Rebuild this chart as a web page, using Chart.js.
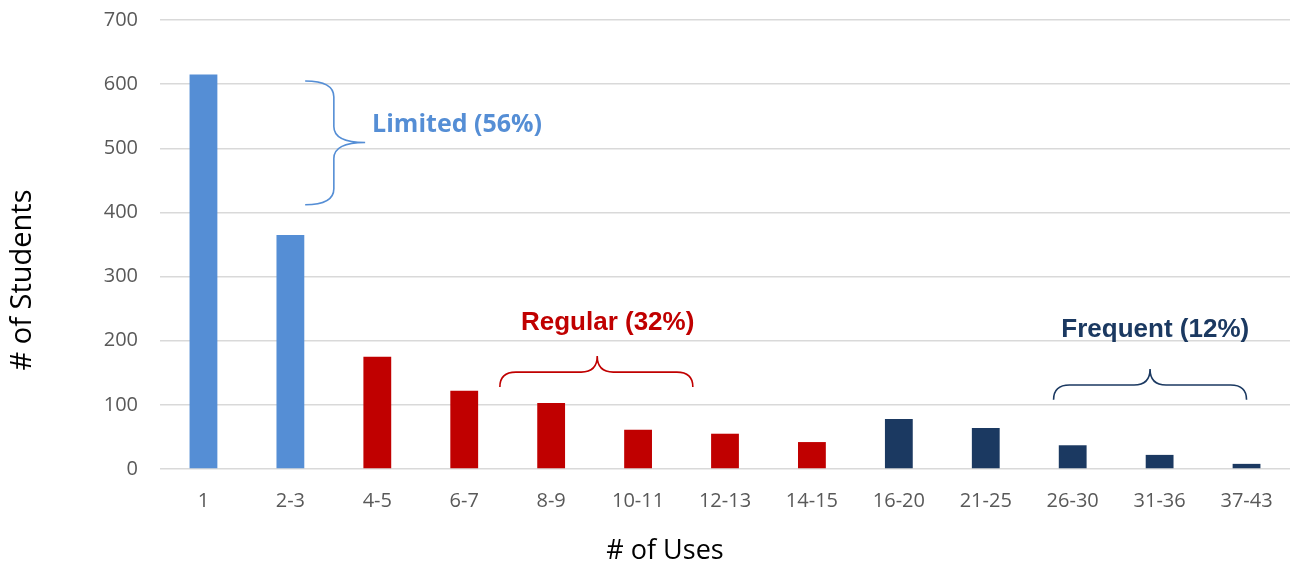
<!DOCTYPE html>
<html>
<head>
<meta charset="utf-8">
<script src="https://cdn.jsdelivr.net/npm/chart.js@4"></script>
<style>
  html, body { margin: 0; padding: 0; background: #fff; }
  #wrap { width: 1295px; height: 564px; }
</style>
</head>
<body>
<div id="wrap"><canvas id="usesChart"></canvas></div>
<script>
// --- data ---
const uses = ['1', '2-3', '4-5', '6-7', '8-9', '10-11', '12-13', '14-15', '16-20', '21-25', '26-30', '31-36', '37-43'];
const students = [615, 365, 175, 122, 103, 61, 55, 42, 78, 64, 37, 22, 8];
const usageGroup = ['limited', 'limited', 'regular', 'regular', 'regular', 'regular', 'regular', 'regular',
  'frequent', 'frequent', 'frequent', 'frequent', 'frequent'];
const yTicks = [0, 100, 200, 300, 400, 500, 600, 700];

const groupColors = { limited: '#558ed5', regular: '#c00000', frequent: '#1b3961' };

// brace + label annotations (x = category index, y = # of students)
const braces = [
  { dir: 'right', a: 605, b: 412, base: 1.17, line: 1.50, tip: 1.86, mid: 509, color: groupColors.limited,
    text: 'Limited (56%)', tx: 1.94, ty: 537, align: 'left', font: 'bold 25px "Open Sans"' },
  { dir: 'up', a: 3.41, b: 5.63, base: 128, line: 151, tip: 176, mid: 4.53, color: groupColors.regular,
    text: 'Regular (32%)', tx: 4.65, ty: 228, align: 'center', font: 'bold 26px "Liberation Sans"' },
  { dir: 'up', a: 9.78, b: 12.0, base: 108, line: 131, tip: 156, mid: 10.89, color: groupColors.frequent,
    text: 'Frequent (12%)', tx: 10.95, ty: 217, align: 'center', font: 'bold 26px "Liberation Sans"' }
];

const bracePlugin = {
  id: 'braces',
  afterDatasetsDraw(chart) {
    const { ctx } = chart;
    const xs = chart.scales.x, ys = chart.scales.y;
    ctx.save();
    braces.forEach(br => {
      ctx.strokeStyle = br.color;
      ctx.lineWidth = 1.6;
      ctx.beginPath();
      if (br.dir === 'up') {
        const x1 = xs.getPixelForValue(br.a), x2 = xs.getPixelForValue(br.b);
        const xm = xs.getPixelForValue(br.mid);
        const yb = ys.getPixelForValue(br.base), yl = ys.getPixelForValue(br.line), yt = ys.getPixelForValue(br.tip);
        const r = 16;
        ctx.moveTo(x1, yb);
        ctx.quadraticCurveTo(x1, yl, x1 + r, yl);
        ctx.lineTo(xm - r, yl);
        ctx.quadraticCurveTo(xm, yl, xm, yt);
        ctx.quadraticCurveTo(xm, yl, xm + r, yl);
        ctx.lineTo(x2 - r, yl);
        ctx.quadraticCurveTo(x2, yl, x2, yb);
      } else {
        const y1 = ys.getPixelForValue(br.a), y2 = ys.getPixelForValue(br.b);
        const ym = ys.getPixelForValue(br.mid);
        const xb = xs.getPixelForValue(br.base), xl = xs.getPixelForValue(br.line), xt = xs.getPixelForValue(br.tip);
        const r = 16;
        ctx.moveTo(xb, y1);
        ctx.quadraticCurveTo(xl, y1, xl, y1 + r);
        ctx.lineTo(xl, ym - r);
        ctx.quadraticCurveTo(xl, ym, xt, ym);
        ctx.quadraticCurveTo(xl, ym, xl, ym + r);
        ctx.lineTo(xl, y2 - r);
        ctx.quadraticCurveTo(xl, y2, xb, y2);
      }
      ctx.stroke();

      ctx.fillStyle = br.color;
      ctx.font = br.font;
      ctx.textAlign = br.align;
      ctx.textBaseline = 'middle';
      ctx.fillText(br.text, xs.getPixelForValue(br.tx), ys.getPixelForValue(br.ty));
    });

    // axis titles sit off-centre in the original, so they are placed by hand
    ctx.fillStyle = '#000';
    ctx.textAlign = 'center';
    ctx.textBaseline = 'middle';
    ctx.font = '27px "Open Sans"';
    ctx.fillText('# of Uses', 665, 551);
    ctx.translate(23, 280);
    ctx.rotate(-Math.PI / 2);
    ctx.font = '29px "Open Sans"';
    ctx.fillText('# of Students', 0, 0);
    ctx.restore();
  }
};

const ctx = document.getElementById('usesChart').getContext('2d');
new Chart(ctx, {
  type: 'bar',
  data: {
    labels: uses,
    datasets: [{
      label: '# of Students',
      data: students,
      backgroundColor: usageGroup.map(g => groupColors[g]),
      barPercentage: 0.64,
      categoryPercentage: 0.5
    }]
  },
  options: {
    responsive: true,
    maintainAspectRatio: false,
    animation: false,
    layout: { padding: { top: 20, right: 5, left: 0, bottom: 0 } },
    plugins: {
      legend: { display: false },
      tooltip: { enabled: false }
    },
    scales: {
      x: {
        grid: { display: false },
        border: { display: false },
        ticks: { color: '#595959', font: { family: '"Open Sans"', size: 20 }, padding: 12, maxRotation: 0 },
        title: { display: false },
        afterFit: (scale) => { scale.height = 95; }
      },
      y: {
        min: 0,
        max: 700,
        afterBuildTicks: (scale) => { scale.ticks = yTicks.map(v => ({ value: v })); },
        // invisible tick marks push labels away from the plot without adding top padding
        grid: { color: '#d9d9d9', lineWidth: 1.5, drawTicks: true, tickLength: 22, tickColor: 'rgba(0,0,0,0)' },
        border: { display: false },
        ticks: { color: '#595959', font: { family: '"Open Sans"', size: 20 }, padding: 0 },
        title: { display: false },
        afterFit: (scale) => { scale.width = 160; }
      }
    }
  },
  plugins: [bracePlugin]
});
</script>
</body>
</html>
